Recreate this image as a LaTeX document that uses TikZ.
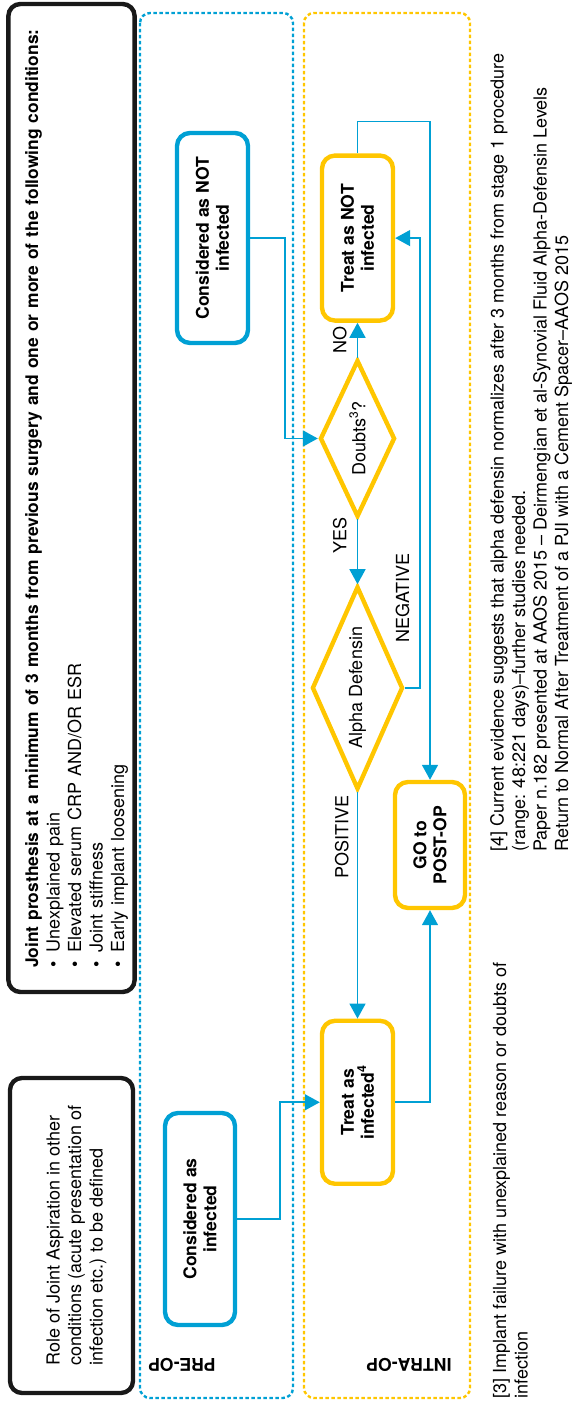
\documentclass[tikz,border=0pt]{standalone}
\usepackage{xcolor}
\usepackage{fontspec}
\setmainfont{TeX Gyre Heros}
\usepackage{tikz}
\usetikzlibrary{shapes.geometric,arrows.meta,positioning}

\definecolor{opblue}{RGB}{0,160,212}
\definecolor{opyellow}{RGB}{255,198,0}

\begin{document}
\begin{tikzpicture}[
    every node/.style={font=\fontsize{9}{10.75}\selectfont},
    infobox/.style={rectangle, draw=black!90, line width=2.2pt, rounded corners=6pt, minimum height=61.5pt},
    lane/.style={rectangle, line width=1.2pt, rounded corners=5pt, dash pattern=on 1.75pt off 1.25pt, minimum width=692.5pt},
    lanelabel/.style={rotate=90, font=\fontsize{8.8}{10}\selectfont\bfseries},
    prebox/.style={rectangle, draw=opblue, line width=2.2pt, rounded corners=6.5pt, align=center, minimum height=35.5pt, font=\fontsize{8.8}{10}\selectfont\bfseries},
    intrabox/.style={rectangle, draw=opyellow, line width=2.2pt, rounded corners=6.5pt, align=center, minimum height=35.5pt, font=\fontsize{8.8}{10}\selectfont\bfseries},
    decision/.style={diamond, draw=opyellow, line width=2.2pt, aspect=2, inner sep=0pt},
    flow/.style={-{Triangle[length=7.5pt, width=8pt]}, line width=0.8pt, draw=opblue},
    answer/.style={inner sep=1pt, font=\fontsize{9}{10}\selectfont},
    note/.style={align=left, inner sep=0pt, anchor=west},
]
\begin{scope}[rotate=90, transform shape, x=0.5pt, y=-0.5pt]
    \useasboundingbox (0,0) rectangle (1403,574);

    % swimlanes
    \node[lane, draw=opblue, minimum height=76.5pt] (prelane) at (697.5,216.5) {};
    \node[lane, draw=opyellow, minimum height=83pt] (intralane) at (697.5,387) {};
    \node[lanelabel] (prelabel) at (38,182) {PRE-OP};
    \node[lanelabel] (intralabel) at (38,409) {INTRA-OP};

    % boxes above the lanes
    \node[infobox, minimum width=494pt, text width=470pt, inner xsep=12pt, align=left] (criteria) at (905,71.5)
        {\mbox{\rule{0pt}{11.5pt}\fontsize{8.7}{10.75}\selectfont\bfseries Joint prosthesis at a minimum of 3 months from previous surgery and one or more of the following conditions:}\\
         \textbullet\hspace{4.8pt}Unexplained pain\\
         \textbullet\hspace{4.8pt}Elevated serum CRP AND/OR ESR\\
         \textbullet\hspace{4.8pt}Joint stiffness\\
         \textbullet\hspace{4.8pt}Early implant loosening};
    \node[infobox, minimum width=157.5pt, align=left] (aspiration) at (167.5,71.5)
        {\rule{0pt}{11.5pt}Role of Joint Aspiration in other\\conditions (acute presentation of\\infection etc.) to be defined};

    % pre-op
    \node[prebox, minimum width=105pt] (cnot) at (1165,212.5) {Considered as NOT\\infected};
    \node[prebox, minimum width=106pt, minimum height=35pt] (cinf) at (184,200) {Considered as\\infected};

    % intra-op
    \node[decision, minimum width=78.5pt, minimum height=37.5pt] (doubts) at (964.5,357.5) {Doubts\textsuperscript{3}?};
    \node[intrabox, minimum width=82.5pt, right=17.5pt of doubts] (tnot) {Treat as NOT\\infected};
    \node[decision, minimum width=101.5pt, minimum height=45.5pt, left=32.5pt of doubts] (alpha) {Alpha Defensin};
    \node[intrabox, minimum width=81.5pt, left=113.5pt of alpha] (tinf) {Treat as\\infected\textsuperscript{4}};
    \node[intrabox, minimum width=63pt, minimum height=35pt] (postop) at (558,430) {GO to\\POST-OP};

    % connectors
    \draw[flow] (cnot.south) -- ++(0,35) -| (doubts.north);
    \draw[flow] (doubts.east) -- node[answer, above=4pt] {NO} (tnot.west);
    \draw[flow] (doubts.west) -- node[answer, above=4pt, pos=0.25] {YES} (alpha.east);
    \draw[flow] (alpha.south) -- ++(0,15) -| node[answer, above=4pt, pos=0.1] {NEGATIVE} (tnot.south);
    \draw[flow] (alpha.west) -- node[answer, above=3pt, pos=0.2] {POSITIVE} (tinf.east);
    \draw[flow] (tnot.east) -- ++(32,0) |- (postop.east);
    \draw[flow] (cinf.south) -- ++(0,43) -| (tinf.north);
    \draw[flow] (tinf.south) |- (postop.west);

    % footnotes
    \node[note] (note3) at (4,510.5) {[3] Implant failure with unexplained reason or doubts of\\infection};
    \node[note] (note4) at (551,531)
        {[4] Current evidence suggests that alpha defensin normalizes after 3 months from stage 1 procedure\\
         (range: 48:221 days)--further studies needed.\\
         Paper n.182 presented at AAOS 2015 -- Deirmengian et al-Synovial Fluid Alpha-Defensin Levels\\
         Return to Normal After Treatment of a PJI with a Cement Spacer--AAOS 2015};
\end{scope}
\end{tikzpicture}
\end{document}
